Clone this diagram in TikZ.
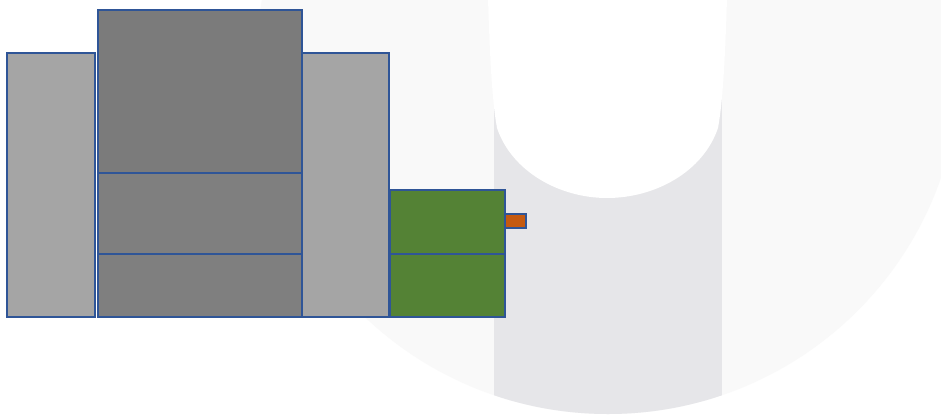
\documentclass[tikz,border=0pt]{standalone}
\begin{document}
\definecolor{wmlight}{HTML}{F9F9F9}
\definecolor{wmband}{HTML}{E6E6E9}
\definecolor{edgeblue}{HTML}{2F5597}
\definecolor{lgray}{HTML}{A5A5A5}
\definecolor{dgray}{HTML}{7F7F7F}
\definecolor{dgraytop}{HTML}{7B7B7B}
\definecolor{pgreen}{HTML}{548235}
\definecolor{porange}{HTML}{C55A11}
\begin{tikzpicture}[x=1pt,y=-1pt,
  blk/.style={draw=edgeblue,line width=2.7pt,rectangle,inner sep=0pt,outer sep=0pt}]
\useasboundingbox (0,0) rectangle (941,415);
\clip (0,0) rectangle (941,415);
\fill[white] (0,0) rectangle (941,415);
% watermark
\fill[wmlight] (608,64) ellipse [x radius=352pt, y radius=350pt];
\begin{scope}
  \clip (608,64) ellipse [x radius=352pt, y radius=350pt];
  \fill[wmband] (494,0) rectangle (722,415);
\end{scope}
\fill[white] (488,-1) .. controls (490,60) and (492,100) .. (497,128)
  .. controls (512,172) and (560,198) .. (607,198)
  .. controls (655,198) and (703,172) .. (718,128)
  .. controls (723,100) and (725,60) .. (727,-1) -- cycle;
% blocks
\node[blk,fill=lgray,minimum width=88pt,minimum height=264pt] (left) at (51,185) {};
\node[blk,fill=lgray,minimum width=87pt,minimum height=264pt] (right) at (345.5,185) {};
\node[blk,fill=dgraytop,minimum width=204pt,minimum height=163pt] (top) at (200,91.5) {};
\node[blk,fill=dgray,minimum width=204pt,minimum height=81pt] (mid) at (200,213.5) {};
\node[blk,fill=dgray,minimum width=204pt,minimum height=63pt] (bot) at (200,285.5) {};
\node[blk,fill=pgreen,minimum width=115pt,minimum height=64pt] (gtop) at (447.5,222) {};
\node[blk,fill=pgreen,minimum width=115pt,minimum height=63pt] (gbot) at (447.5,285.5) {};
\node[blk,fill=porange,minimum width=21pt,minimum height=14pt] (tab) at (515.5,221) {};
\end{tikzpicture}
\end{document}
